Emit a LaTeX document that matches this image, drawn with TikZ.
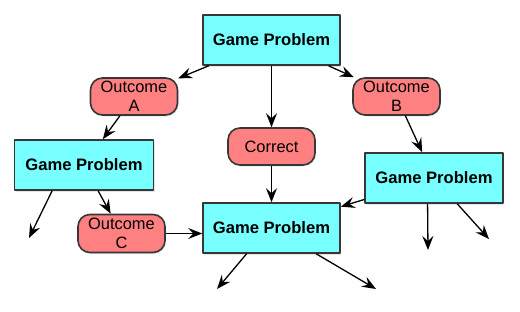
\documentclass[tikz,border=0pt]{standalone}
\usepackage{fontspec}
\setmainfont{Liberation Sans}
\usetikzlibrary{arrows.meta, shadows}
\definecolor{probcyan}{RGB}{120,255,255}
\definecolor{outred}{RGB}{255,128,128}
\definecolor{edgegray}{RGB}{55,55,55}

\begin{document}
\begin{tikzpicture}[x=1pt, y=-1pt, line join=round,
    problem/.style={draw=edgegray, line width=1.6pt, fill=probcyan,
      minimum width=137pt, minimum height=50pt, inner sep=0pt,
      font=\fontsize{16.6}{19}\selectfont\bfseries,
      drop shadow={opacity=0.2, shadow xshift=1pt, shadow yshift=-1.5pt}},
    outcome/.style={draw=edgegray, line width=1.6pt, fill=outred,
      rounded corners=12pt, minimum width=87pt, minimum height=37pt,
      inner sep=0pt, align=center, font=\fontsize{16.4}{19}\selectfont,
      drop shadow={opacity=0.2, shadow xshift=1pt, shadow yshift=-1.5pt}},
    arr/.style={-{Stealth[length=14pt, width=11pt, inset=5pt]}, line width=1.3pt}]
      \useasboundingbox (0,0) rectangle (520,311);
      \node[problem] (gp1) at (271.5,40) {Game Problem};
      \node[outcome] (oa) at (134,96.5) {Outcome\\A};
      \node[outcome] (ob) at (396.5,96.5) {Outcome\\B};
      \node[outcome] (cor) at (271.5,146.5) {Correct};
      \node[problem, minimum width=139pt] (gp2) at (84,165) {Game Problem};
      \node[problem, minimum width=138pt] (gp3) at (434,178) {Game Problem};
      \node[outcome, minimum height=38pt] (oc) at (121.5,233.5) {Outcome\\C};
      \node[problem] (gp4) at (271.5,228) {Game Problem};
      \coordinate (e1) at (29,238);
      \coordinate (e2) at (428,250);
      \coordinate (e3) at (489,239);
      \coordinate (e4) at (217,289);
      \coordinate (e5) at (376,289);
      \draw[arr] (gp1) -- (oa);
      \draw[arr] (gp1) -- (cor);
      \draw[arr] (gp1) -- (ob);
      \draw[arr] (oa) -- (gp2);
      \draw[arr] (ob) -- (gp3);
      \draw[arr] (gp2.219) -- (e1);
      \draw[arr] (gp2) -- (oc);
      \draw[arr] (oc.east) -- (oc.east -| gp4.west);
      \draw[arr] (cor) -- (gp4);
      \draw[arr] (gp3) -- (gp4);
      \draw[arr] (gp3.256.5) -- (e2);
      \draw[arr] (gp3.312.6) -- (e3);
      \draw[arr] (gp4.226.8) -- (e4);
      \draw[arr] (gp4.330.1) -- (e5);
\end{tikzpicture}
\end{document}
